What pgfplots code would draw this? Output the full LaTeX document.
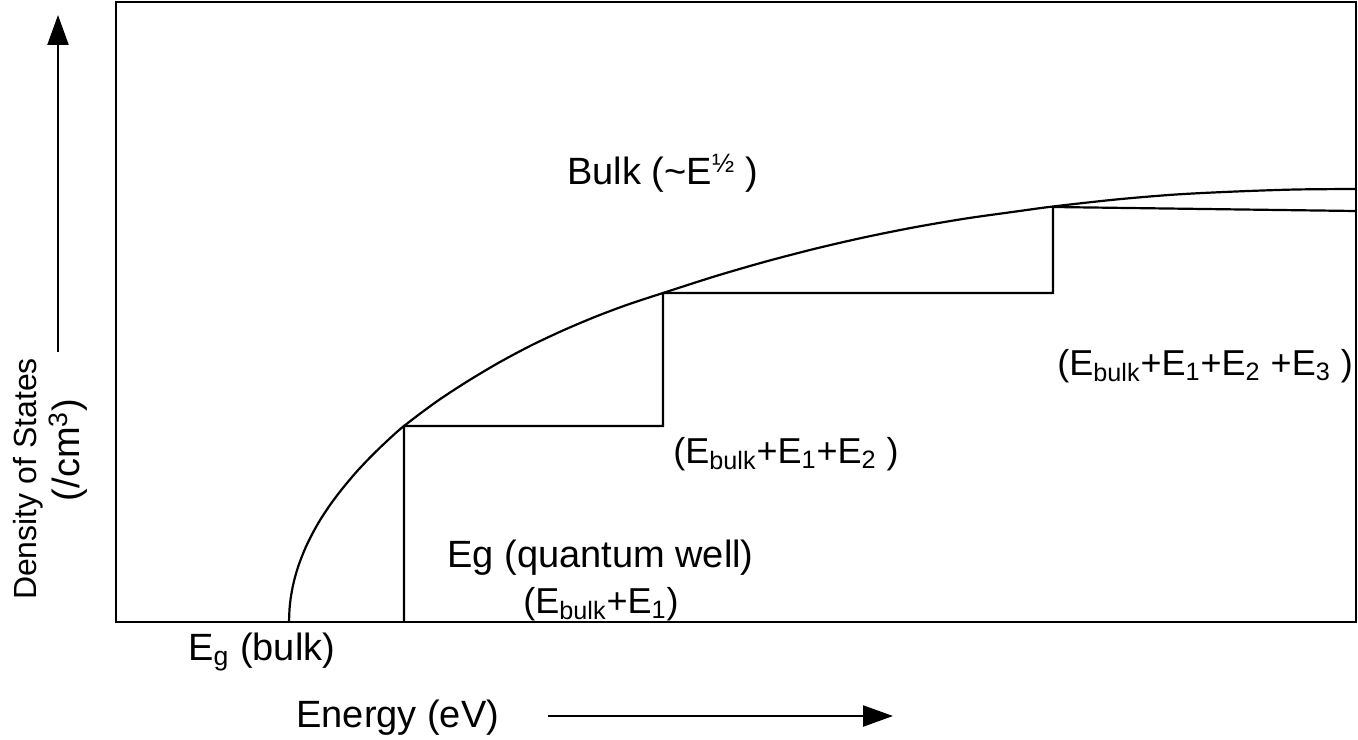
\documentclass[border=0pt]{standalone}
\usepackage{pgfplots}
\pgfplotsset{compat=1.18}
\usepackage{fontspec}
\setmainfont{Liberation Sans}
\usetikzlibrary{arrows.meta}
\tikzset{lbl/.style={font=\fontsize{19}{22}\selectfont, inner sep=0pt},
         lbs/.style={font=\fontsize{18}{21}\selectfont, inner sep=0pt}}
\begin{document}
\begin{tikzpicture}
\begin{axis}[
  scale only axis, width=620pt, height=310pt,
  xmin=0, xmax=1240, ymin=0, ymax=620,
  xtick=\empty, ytick=\empty,
  axis line style={line width=1.4pt},
  clip=false,
]
% bulk density of states
\addplot[black, line width=1.1pt, smooth, tension=0.5] coordinates {
(173,0) (173.5,12.9) (174,18.3) (175,25.8) (177,36.6) (180,48.4) (184,60.6)
(190,75.4) (197,89.5) (205,103.4) (215,118.4) (226,132.9) (240,149.6)
(255,165.5) (271,181) (288,196) (320,220) (352,241) (384,260) (416,277)
(448,292) (480,305.5) (512,317.5) (547,329) (600,346) (650,360.5)
(700,373.5) (750,385) (800,395) (850,403.5) (900,410.5) (937,415.5)
(1000,422.5) (1060,427.5) (1120,430.5) (1180,432.5) (1239,433)
};
% quantum well staircase
\addplot[black, line width=1.1pt] coordinates {
(288,0) (288,196) (547,196) (547,329) (937,329) (937,415) (1239,411)
};
\node[lbl, anchor=base west] at (axis cs:451,437) {Bulk (\textasciitilde E\textsuperscript{½} )};
\node[lbl, anchor=base west] at (axis cs:72,-38) {E\textsubscript{g} (bulk)};
\node[lbl, anchor=base west] at (axis cs:180,-105) {Energy (eV)};
\node[lbs, anchor=base west] at (axis cs:941,247) {(E\textsubscript{bulk}+E\textsubscript{1}+E\textsubscript{2} +E\textsubscript{3} )};
\node[lbs, anchor=base west] at (axis cs:557,159) {(E\textsubscript{bulk}+E\textsubscript{1}+E\textsubscript{2} )};
\node[lbl, anchor=base west] at (axis cs:331,55) {Eg (quantum well)};
\node[lbs, anchor=base west] at (axis cs:407,9) {(E\textsubscript{bulk}+E\textsubscript{1})};
\node[rotate=90, font=\fontsize{16}{19}\selectfont, inner sep=0pt] at (axis cs:-88,143) {Density of States};
\node[lbl, rotate=90] at (axis cs:-48,172) {(/cm\textsuperscript{3})};
\draw[line width=1.2pt, -{Triangle[length=15pt,width=10.5pt]}] (axis cs:432,-94) -- (axis cs:777,-94);
\draw[line width=1.2pt, -{Triangle[length=15pt,width=10.5pt]}] (axis cs:-58,270) -- (axis cs:-58,607);
\coordinate (bl) at (axis cs:-116,-117);
\coordinate (tr) at (axis cs:1242,622);
\end{axis}
\pgfresetboundingbox
\path (bl) rectangle (tr);
\end{tikzpicture}
\end{document}
